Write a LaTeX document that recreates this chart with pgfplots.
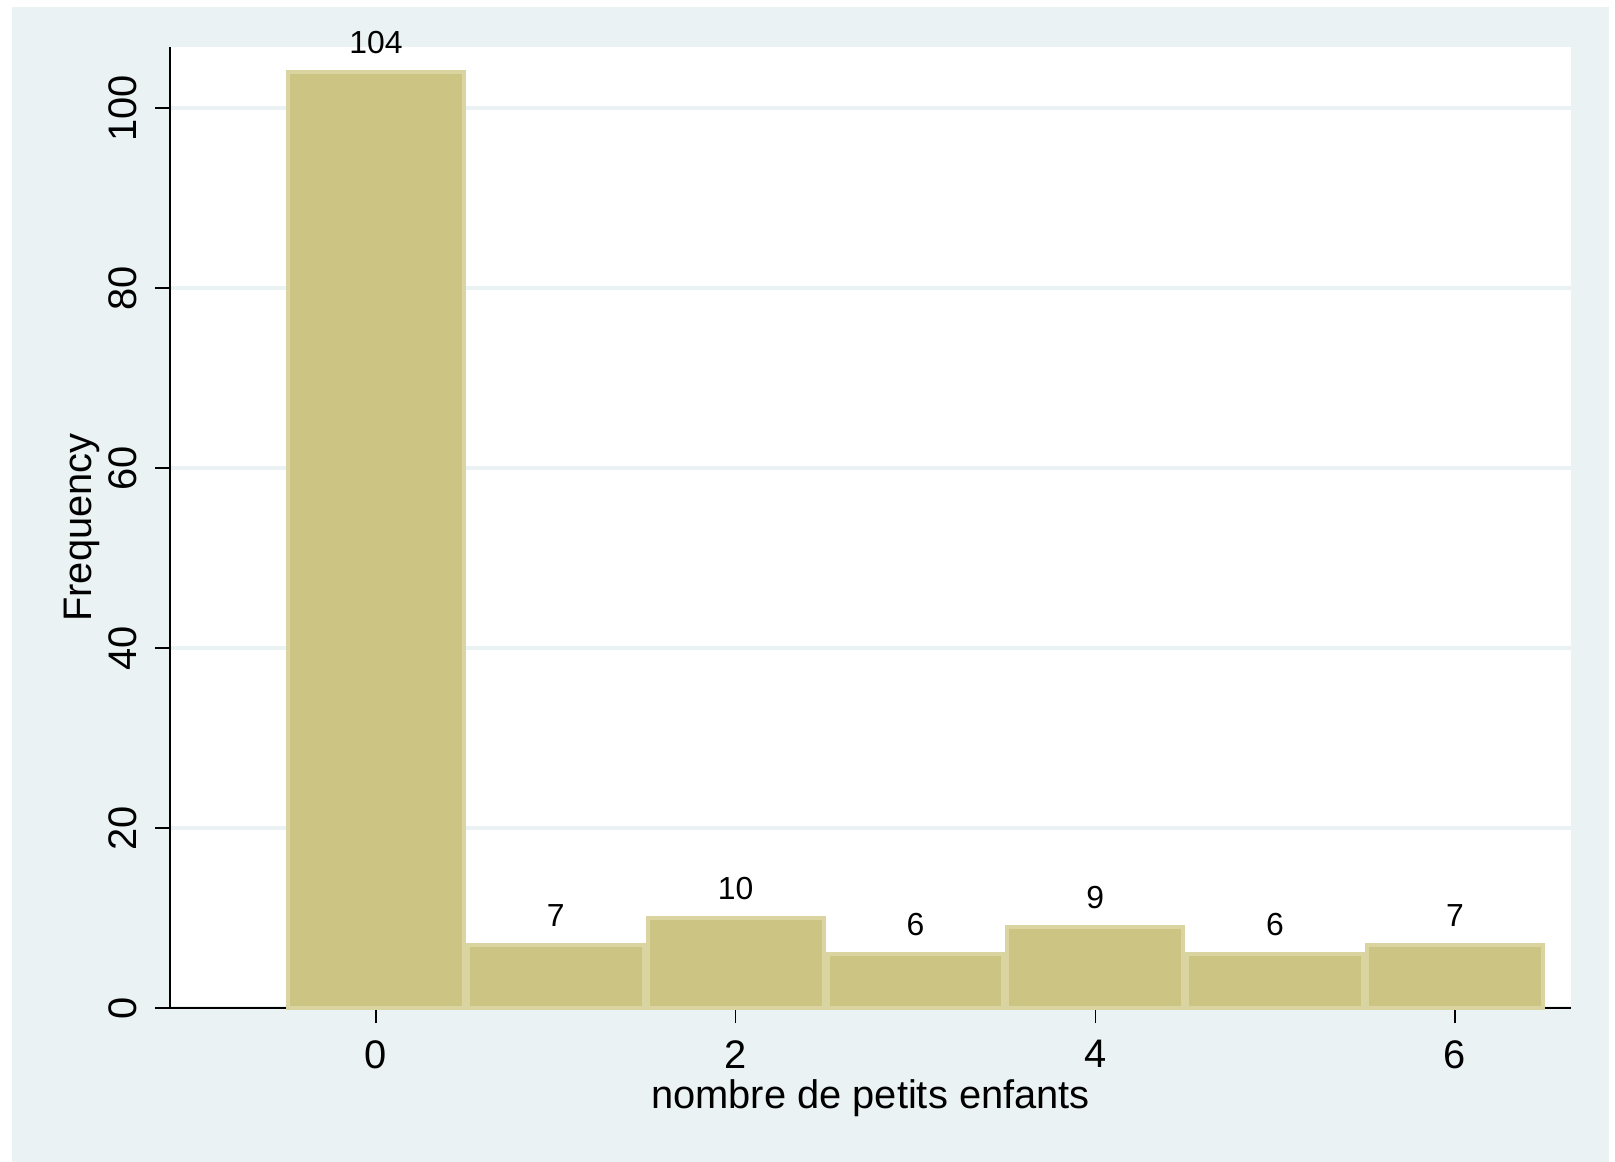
\documentclass[border=0pt]{standalone}
\usepackage{fontspec}
\setmainfont{Liberation Sans}
\usepackage{pgfplots}
\pgfplotsset{compat=1.18}
\definecolor{bgc}{HTML}{EAF2F3}
\definecolor{barf}{HTML}{CBC482}
\definecolor{bare}{HTML}{D9D4A0}
\begin{document}
\begin{tikzpicture}
\fill[white] (0,0) rectangle (807.5bp,581bp);
\fill[bgc] (6bp,0) rectangle (804.5bp,577.5bp);
\begin{axis}[
  at={(85bp,77bp)}, anchor=south west,
  scale only axis, width=700.5bp, height=480.5bp,
  xmin=-1.146, xmax=6.646, ymin=0, ymax=106.8,
  axis lines*=left,
  axis line style={-, line width=1bp, black},
  axis background/.style={fill=white},
  tick align=outside,
  major tick length=7.5bp,
  tick style={line width=0.75bp, black},
  xtick={0,2,4,6}, ytick={0,20,40,60,80,100},
  minor tick num=0,
  ymajorgrids, grid style={bgc, line width=2bp},
  /pgf/number format/assume math mode=true,
  ticklabel style={font=\fontsize{20}{24}\selectfont},
  xticklabel style={anchor=north, inner sep=0pt},
  yticklabel style={rotate=90, anchor=south, inner sep=0pt},
  xticklabel shift=8.5bp,
  yticklabel shift=9bp,
  xlabel={nombre de petits enfants},
  ylabel={Frequency},
  label style={font=\fontsize{20}{24}\selectfont},
  xlabel style={at={(axis description cs:0.5,0)}, anchor=base, yshift=-50bp, inner sep=0pt},
  ylabel style={at={(axis description cs:-0.0557,0.5)}, anchor=base, inner sep=0pt},
  clip=false,
  nodes near coords,
  every node near coord/.append style={font=\fontsize{16}{19}\selectfont, anchor=base, inner sep=0pt, yshift=9.5bp, black},
]
\addplot[ybar, bar width=0.978, fill=barf, draw=bare, line width=2bp] coordinates {
(0,104) (1,7) (2,10) (3,6) (4,9) (5,6) (6,7)
};
\end{axis}
\end{tikzpicture}
\end{document}
